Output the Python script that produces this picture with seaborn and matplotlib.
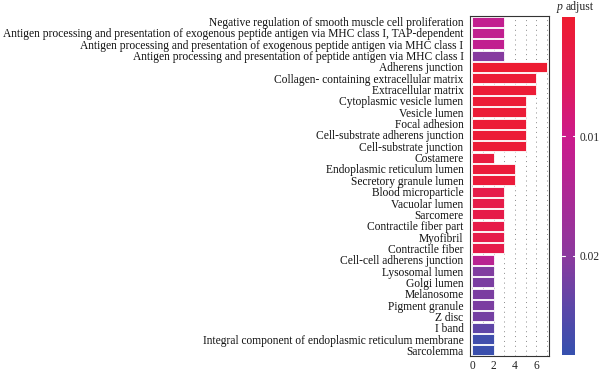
import numpy as np
import pandas as pd
import matplotlib
matplotlib.use("Agg")
import matplotlib.pyplot as plt
import seaborn as sns
from matplotlib.colors import LinearSegmentedColormap, Normalize
from matplotlib.cm import ScalarMappable

terms = [
    "Negative regulation of smooth muscle cell proliferation",
    "Antigen processing and presentation of exogenous peptide antigen via MHC class I, TAP-dependent",
    "Antigen processing and presentation of exogenous peptide antigen via MHC class I",
    "Antigen processing and presentation of peptide antigen via MHC class I",
    "Adherens junction",
    "Collagen- containing extracellular matrix",
    "Extracellular matrix",
    "Cytoplasmic vesicle lumen",
    "Vesicle lumen",
    "Focal adhesion",
    "Cell-substrate adherens junction",
    "Cell-substrate junction",
    "Costamere",
    "Endoplasmic reticulum lumen",
    "Secretory granule lumen",
    "Blood microparticle",
    "Vacuolar lumen",
    "Sarcomere",
    "Contractile fiber part",
    "Myofibril",
    "Contractile fiber",
    "Cell-cell adherens junction",
    "Lysosomal lumen",
    "Golgi lumen",
    "Melanosome",
    "Pigment granule",
    "Z disc",
    "I band",
    "Integral component of endoplasmic reticulum membrane",
    "Sarcolemma",
]
counts = [3, 3, 3, 3, 7, 6, 6, 5, 5, 5, 5, 5, 2, 4, 4,
          3, 3, 3, 3, 3, 3, 2, 2, 2, 2, 2, 2, 2, 2, 2]
p_adjust = [0.0115, 0.0118, 0.0118, 0.0205, 0.0004, 0.0008, 0.0008,
            0.0010, 0.0010, 0.0010, 0.0010, 0.0010, 0.0020, 0.0015, 0.0015,
            0.0035, 0.0035, 0.0035, 0.0035, 0.0035, 0.0035, 0.0130,
            0.0210, 0.0215, 0.0215, 0.0215, 0.0220, 0.0240, 0.0272, 0.0278]

df = pd.DataFrame({"term": terms, "count": counts, "p": p_adjust})

cmap = LinearSegmentedColormap.from_list(
    "padj",
    [(0.0, "#EE1C30"), (0.18, "#E21A55"), (0.355, "#CC1A8C"),
     (0.71, "#8B3A9E"), (0.86, "#5C47A8"), (1.0, "#3650AE")])
norm = Normalize(vmin=0.0, vmax=0.0283)
colors = [cmap(norm(v)) for v in p_adjust]

sns.set_style("white")
plt.rcParams["font.family"] = ["Liberation Serif", "DejaVu Serif"]

fig = plt.figure(figsize=(6, 3.72), dpi=100)
ax = fig.add_axes([0.783, 0.043, 0.132, 0.914])

sns.barplot(data=df, x="count", y="term", hue="term", palette=colors,
            order=terms, legend=False, width=0.9, edgecolor="white",
            linewidth=0.6, saturation=1, ax=ax)

ax.set_xlim(-0.25, 7.2)
ax.set_xticks([0, 2, 4, 6])
for xv in range(0, 8):
    ax.axvline(xv, color="#8a8a8a", linestyle=(0, (1, 4)), linewidth=0.7, zorder=0)
ax.set_axisbelow(True)
ax.set_xlabel("")
ax.set_ylabel("")
ax.tick_params(axis="y", length=2.5, width=0.6, color="#333333", labelsize=8.3, pad=2)
ax.tick_params(axis="x", length=0, labelsize=8.3, pad=3, colors="#222222")
for lab in ax.get_yticklabels():
    lab.set_color("#111111")
for s in ax.spines.values():
    s.set_color("#333333")
    s.set_linewidth(0.8)

cax = fig.add_axes([0.937, 0.046, 0.022, 0.908])
sm = ScalarMappable(norm=norm, cmap=cmap)
cb = fig.colorbar(sm, cax=cax, ticks=[0.01, 0.02])
cb.outline.set_visible(False)
cax.invert_yaxis()
cax.set_yticklabels(["0.01", "0.02"])
cax.tick_params(axis="y", length=0, labelsize=8.3, pad=3)
for t in [0.01, 0.02]:
    cax.axhline(t, xmin=0, xmax=0.2, color="white", linewidth=0.8)
    cax.axhline(t, xmin=0.8, xmax=1, color="white", linewidth=0.8)
fig.text(0.928, 0.965, "p", ha="left", va="bottom", fontsize=8.5, style="italic")
fig.text(0.943, 0.965, "adjust", ha="left", va="bottom", fontsize=8.5)

fig.savefig("out.png", dpi=100, facecolor="white")
